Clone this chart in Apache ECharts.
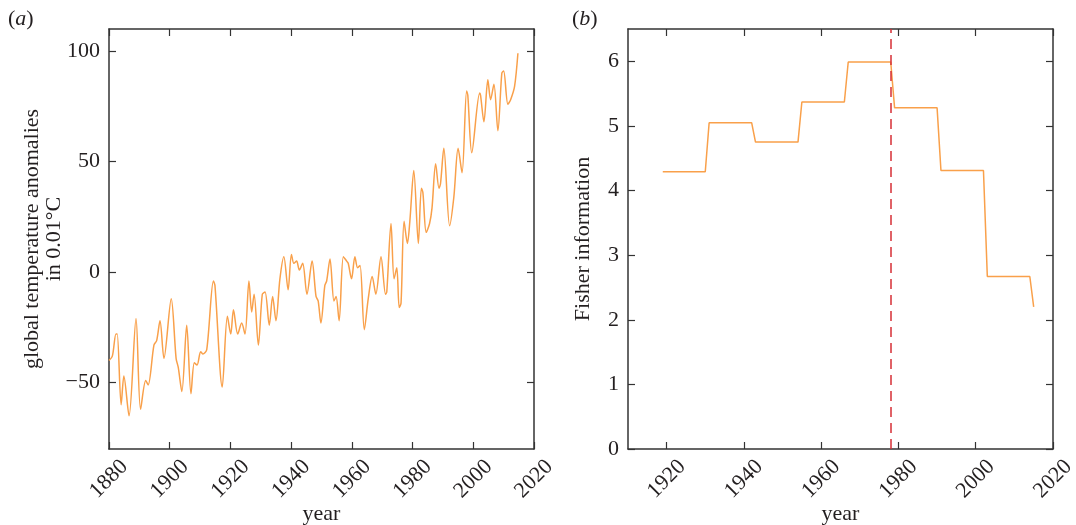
<!DOCTYPE html>
<html lang="en">
<head>
    <meta charset="UTF-8">
    <title>temperature anomalies / Fisher information</title>
    <script src="https://cdn.jsdelivr.net/npm/echarts@6/dist/echarts.min.js"></script>
    <style>
        body { margin: 0; background: #fff; }
        #chartmain { width: 1076px; height: 525px; }
    </style>
</head>
<body>
<div id="chartmain"></div>
<script type="text/javascript">
    // (a) global temperature anomalies (peaks / troughs)
    var tempYears = [1880.0, 1881.1, 1882.3, 1882.7, 1884.0, 1884.9, 1886.6, 1888.9, 1890.4, 1892.1,
        1892.9, 1894.8, 1895.7, 1896.8, 1898.1, 1900.5, 1902.1, 1902.8, 1904.0, 1905.6,
        1907.0, 1908.1, 1909.0, 1910.2, 1910.9, 1912.2, 1914.4, 1914.9, 1917.3, 1919.0,
        1920.1, 1921.0, 1922.4, 1923.7, 1924.8, 1926.1, 1927.0, 1927.8, 1929.2, 1930.5,
        1931.4, 1932.8, 1933.9, 1935.0, 1936.3, 1937.6, 1939.0, 1940.1, 1940.9, 1941.8,
        1942.7, 1943.8, 1945.2, 1946.9, 1948.2, 1948.9, 1949.8, 1951.1, 1951.7, 1952.8,
        1954.1, 1954.8, 1955.8, 1957.2, 1958.3, 1958.8, 1959.9, 1961.0, 1961.9, 1962.7,
        1964.1, 1965.4, 1966.7, 1967.9, 1969.6, 1971.1, 1971.5, 1972.9, 1973.9, 1974.8,
        1975.6, 1976.2, 1977.2, 1978.3, 1979.1, 1980.4, 1981.9, 1982.9, 1983.4, 1984.5,
        1985.6, 1986.4, 1987.6, 1988.7, 1989.2, 1990.3, 1992.2, 1993.6, 1995.0, 1996.3,
        1997.8, 1998.2, 1999.5, 2002.1, 2002.4, 2003.5, 2004.8, 2005.7, 2006.8, 2008.1,
        2009.4, 2010.0, 2011.4, 2012.3, 2013.6, 2014.7];
    var tempValues = [-40, -38, -28, -28, -60, -47, -65, -21, -62, -49,
        -51, -33, -31, -22, -39, -12, -39, -43, -54, -24,
        -55, -41, -42, -36, -37, -35, -4, -6, -52, -20,
        -28, -17, -28, -23, -28, -4, -18, -10, -33, -10,
        -9, -24, -11, -22, -3, 7, -8, 8, 4, 5,
        1, 4, -10, 5, -11, -13, -23, -6, -4, 6,
        -13, -11, -22, 7, 5, 4, -3, 7, 2, 3,
        -26, -12, -2, -10, 7, -10, -9, 22, -3, 2,
        -16, -14, 23, 13, 23, 46, 13, 38, 36, 18,
        22, 29, 49, 38, 40, 56, 21, 34, 56, 45,
        82, 80, 54, 81, 80, 68, 87, 78, 85, 64,
        90, 91, 76, 78, 84, 99];

    // (b) Fisher information, 12-year windows (step corners)
    var fisherYears = [1919, 1930, 1931, 1942, 1943, 1954, 1955, 1966, 1967, 1978,
        1979, 1990, 1991, 2002, 2003, 2014, 2015];
    var fisherValues = [4.29, 4.29, 5.05, 5.05, 4.75, 4.75, 5.37, 5.37, 5.99, 5.99,
        5.28, 5.28, 4.31, 4.31, 2.67, 2.67, 2.20];
    var markerYear = 1978;

    var tempTicks = [-50, 0, 50, 100];
    var yearTicksA = [1880, 1900, 1920, 1940, 1960, 1980, 2000, 2020];
    var yearTicksB = [1920, 1940, 1960, 1980, 2000, 2020];
    var fisherTicks = [0, 1, 2, 3, 4, 5, 6];

    var FONT = 'Liberation Serif';
    var TXT = '#231f20';
    var AX = '#333333';

    function pairs(xs, ys) {
        var out = [];
        for (var i = 0; i < xs.length; i++) out.push([xs[i], ys[i]]);
        return out;
    }

    function minus(v) {
        return String(v).replace('-', '\u2212');
    }

    // axis with inside ticks; labels optional
    function axis(gridIndex, position, min, max, ticks, labels, extra) {
        var a = {
            type: 'value',
            gridIndex: gridIndex,
            position: position,
            min: min,
            max: max,
            splitLine: { show: false },
            axisLine: { show: true, onZero: false, lineStyle: { color: AX, width: 1.5 } },
            axisTick: { show: true, inside: true, length: 7, customValues: ticks,
                lineStyle: { color: AX, width: 1.2 } },
            axisLabel: { show: labels, customValues: ticks, color: TXT,
                fontFamily: FONT, fontSize: 22, formatter: minus }
        };
        if (extra) {
            for (var k in extra) a[k] = extra[k];
        }
        return a;
    }

    var xLabelExtra = function (name) {
        return {
            name: name,
            nameLocation: 'middle',
            nameGap: 54,
            nameMoveOverlap: false,
            nameTextStyle: { color: TXT, fontFamily: FONT, fontSize: 22 }
        };
    };

    var myChart = echarts.init(document.getElementById('chartmain'), null, { renderer: 'canvas' });

    var xA = axis(0, 'bottom', 1880, 2020, yearTicksA, true, xLabelExtra('year'));
    var xB = axis(1, 'bottom', 1910, 2020, yearTicksB, true, xLabelExtra('year'));
    [xA, xB].forEach(function (a) {
        a.axisLabel.rotate = 45;
        a.axisLabel.align = 'center';
        a.axisLabel.verticalAlign = 'middle';
        a.axisLabel.margin = 30;
    });

    var yA = axis(0, 'left', -80, 110, tempTicks, true, {
        name: 'global temperature anomalies\nin 0.01\u00b0C',
        nameLocation: 'middle',
        nameRotate: 90,
        nameGap: 44,
        nameMoveOverlap: false,
        nameTextStyle: { color: TXT, fontFamily: FONT, fontSize: 22, lineHeight: 22, align: 'center' }
    });
    yA.axisLabel.margin = 9;
    var yB = axis(1, 'left', 0, 6.5, fisherTicks, true, {
        name: 'Fisher information',
        nameLocation: 'middle',
        nameRotate: 90,
        nameGap: 34,
        nameMoveOverlap: false,
        nameTextStyle: { color: TXT, fontFamily: FONT, fontSize: 22 }
    });
    yB.axisLabel.margin = 9;

    var option = {
        animation: false,
        backgroundColor: '#ffffff',
        grid: [
            { left: 109, top: 29, width: 425, height: 420, outerBoundsMode: 'none', containLabel: false },
            { left: 628, top: 29, width: 425, height: 420, outerBoundsMode: 'none', containLabel: false }
        ],
        xAxis: [
            xA,
            axis(0, 'top', 1880, 2020, yearTicksA, false),
            xB,
            axis(1, 'top', 1910, 2020, yearTicksB, false)
        ],
        yAxis: [
            yA,
            axis(0, 'right', -80, 110, tempTicks, false),
            yB,
            axis(1, 'right', 0, 6.5, fisherTicks, false)
        ],
        graphic: [
            { type: 'text', left: 8, top: 8, style: {
                text: '{p|(}{i|a}{p|)}',
                rich: {
                    p: { fontFamily: FONT, fontSize: 22, fill: TXT },
                    i: { fontFamily: FONT, fontSize: 22, fontStyle: 'italic', fill: TXT }
                } } },
            { type: 'text', left: 572, top: 8, style: {
                text: '{p|(}{i|b}{p|)}',
                rich: {
                    p: { fontFamily: FONT, fontSize: 22, fill: TXT },
                    i: { fontFamily: FONT, fontSize: 22, fontStyle: 'italic', fill: TXT }
                } } }
        ],
        series: [
            {
                name: 'temperature',
                type: 'line',
                xAxisIndex: 0,
                yAxisIndex: 0,
                showSymbol: false,
                smooth: 0.3,
                data: pairs(tempYears, tempValues),
                lineStyle: { color: '#f9a04a', width: 1.5 }
            },
            {
                name: 'fisher',
                type: 'line',
                xAxisIndex: 2,
                yAxisIndex: 2,
                showSymbol: false,
                data: pairs(fisherYears, fisherValues),
                lineStyle: { color: '#f9a04a', width: 1.5 },
                markLine: {
                    silent: true,
                    symbol: 'none',
                    label: { show: false },
                    lineStyle: { color: '#d62f36', type: [10, 6], width: 1.5 },
                    data: [{ xAxis: markerYear }]
                }
            }
        ]
    };

    myChart.setOption(option);
</script>
</body>
</html>
